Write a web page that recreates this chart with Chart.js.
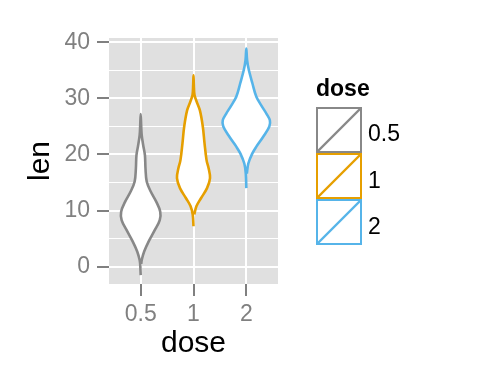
<!DOCTYPE html>
<html>
<head>
<meta charset="utf-8">
<script src="https://cdn.jsdelivr.net/npm/chart.js@4.4.0/dist/chart.umd.min.js"></script>
<style>
  body { margin: 0; background: #fff; }
  #wrap { position: relative; width: 480px; height: 384px; font-family: "Liberation Sans", Arial, sans-serif; }
  #chart { position: absolute; left: 0; top: 0; }
  .lg { position: absolute; font-size: 23px; line-height: 23px; color: #000; white-space: nowrap; }
  #keys { position: absolute; left: 314px; top: 106px; }
</style>
</head>
<body>
<div id="wrap">
  <canvas id="chart" width="480" height="384"></canvas>
  <div class="lg" style="left:316px;top:77px;font-weight:bold;">dose</div>
  <svg id="keys" width="52" height="142"></svg>
  <div class="lg" style="left:368px;top:122px;">0.5</div>
  <div class="lg" style="left:368px;top:169px;">1</div>
  <div class="lg" style="left:368px;top:215px;">2</div>
</div>
<script>
const doses = ["0.5", "1", "2"];
const doseColors = ["#888888", "#E69F00", "#56B4E9"];
const yTicks = [0, 10, 20, 30, 40];
const yMinor = [5, 15, 25, 35];

// violin outlines: len value and half width (x units)
const len05 = [-1.5, 0.5, 1.2, 2.7, 4.5, 6.5, 8.3, 9.8, 11.6, 13.4, 15.2, 17.5, 19.9, 21.7, 23.5, 25, 27.2];
const width05 = [0, 0.01, 0.02, 0.066, 0.152, 0.266, 0.361, 0.37, 0.294, 0.19, 0.114, 0.091, 0.08, 0.047, 0.019, 0.01, 0];
const len1 = [7.2, 9.3, 10.8, 12.2, 14.0, 15.8, 17.6, 19.0, 22.0, 25.0, 27.9, 29.5, 30.6, 32.5, 34.1];
const width1 = [0, 0.015, 0.057, 0.142, 0.256, 0.313, 0.285, 0.247, 0.209, 0.176, 0.12, 0.057, 0.019, 0.006, 0];
const len2 = [14.0, 16.6, 18.4, 20.2, 21.4, 23.2, 25.0, 26.1, 27.3, 28.5, 30.3, 32.7, 35.1, 36.8, 38.9];
const width2 = [0, 0.01, 0.038, 0.114, 0.19, 0.323, 0.436, 0.446, 0.38, 0.3, 0.19, 0.115, 0.047, 0.015, 0];

const violins = [[len05, width05], [len1, width1], [len2, width2]];

function outline(pos, lens, widths) {
    const left = lens.map((v, i) => ({ x: pos - widths[i], y: v }));
    const right = lens.map((v, i) => ({ x: pos + widths[i], y: v })).reverse();
    return left.concat(right.slice(1, -1));
}

// legend keys
const svg = document.getElementById("keys");
doseColors.forEach((c, i) => {
    const top = 1 + i * 46;
    svg.innerHTML +=
        '<rect x="3" y="' + (top + 1) + '" width="44" height="44" fill="#fff" stroke="' + c + '" stroke-width="2"/>' +
        '<line x1="3" y1="' + (top + 45) + '" x2="47" y2="' + (top + 1) + '" stroke="' + c + '" stroke-width="2.4"/>';
});

const panelBg = {
    id: "panelBg",
    beforeDraw(chart) {
        const { ctx, chartArea: a } = chart;
        ctx.save();
        ctx.fillStyle = "#E0E0E0";
        ctx.fillRect(a.left, a.top, a.right - a.left, a.bottom - a.top);
        ctx.restore();
    },
};

Chart.defaults.font.family = "'Liberation Sans', Arial, sans-serif";

new Chart(document.getElementById("chart"), {
    type: "scatter",
    data: {
        datasets: violins.map((v, i) => ({
            label: doses[i],
            data: outline(i + 1, v[0], v[1]),
            showLine: true,
            fill: "shape",
            backgroundColor: "#ffffff",
            borderColor: doseColors[i],
            borderWidth: 2.6,
            pointRadius: 0,
            tension: 0.35,
        })),
    },
    options: {
        responsive: false,
        animation: false,
        devicePixelRatio: 1,
        layout: { padding: { left: 0, top: 38, right: 202, bottom: 0 } },
        plugins: { legend: { display: false }, tooltip: { enabled: false } },
        scales: {
            x: {
                type: "linear",
                min: 0.4,
                max: 3.6,
                afterBuildTicks: (s) => { s.ticks = doses.map((d, i) => ({ value: i + 1 })); },
                afterFit: (s) => { s.height = 100; },
                ticks: {
                    callback: (v) => doses[v - 1] ?? "",
                    color: "#808080",
                    font: { size: 23 },
                    padding: 5,
                    maxRotation: 0,
                    autoSkip: false,
                },
                grid: { color: "#ffffff", lineWidth: 2, tickLength: 12, tickColor: "#808080", tickWidth: 2 },
                border: { display: false },
                title: { display: true, text: "dose", color: "#000", font: { size: 30 }, padding: { top: 0, bottom: 22 } },
            },
            y: {
                type: "linear",
                min: -3.09,
                max: 40.77,
                afterBuildTicks: (s) => {
                    s.ticks = yTicks.concat(yMinor).sort((a, b) => a - b).map((v) => ({ value: v }));
                },
                afterFit: (s) => { s.width = 109; },
                ticks: {
                    callback: (v) => (yTicks.includes(v) ? String(v) : ""),
                    color: "#808080",
                    font: { size: 23 },
                    padding: 7,
                    autoSkip: false,
                },
                grid: {
                    color: "#ffffff",
                    lineWidth: (c) => (yTicks.includes(c.tick.value) ? 2 : 1),
                    tickColor: (c) => (yTicks.includes(c.tick.value) ? "#808080" : "rgba(0,0,0,0)"),
                    tickLength: 12,
                    tickWidth: 2,
                },
                border: { display: false },
                title: { display: true, text: "len", color: "#000", font: { size: 30 }, padding: { top: 23, bottom: 0 } },
            },
        },
    },
    plugins: [panelBg],
});
</script>
</body>
</html>
